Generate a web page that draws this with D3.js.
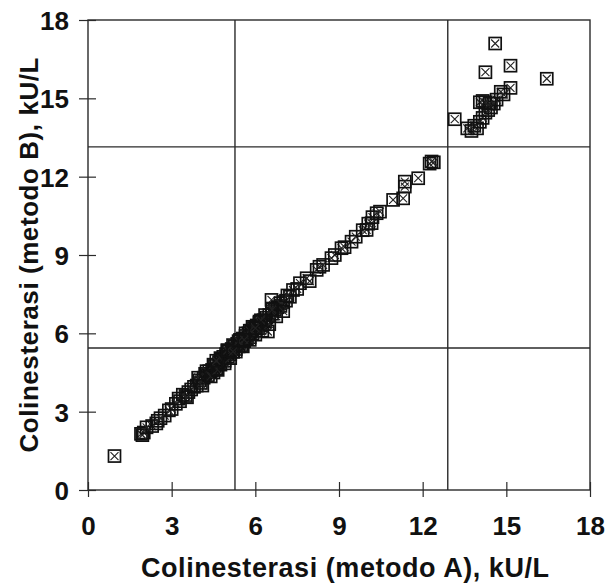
<!DOCTYPE html>
<html><head><meta charset="utf-8">
<script src="https://cdn.jsdelivr.net/npm/d3@7"></script>
<style>body{margin:0;background:#fff}svg{display:block}</style>
</head><body>
<script>
// Data (kU/L)
const methodA = [0.95,1.9,2.0,1.95,2.3,2.5,2.45,2.75,2.9,3.0,3.15,3.3,3.25,3.5,3.6,3.7,3.8,3.9,4.0,4.05,4.15,4.2,4.3,4.35,4.45,4.5,4.55,4.6,4.7,4.75,4.8,4.85,4.9,4.95,5.0,5.05,5.1,5.15,5.2,5.25,5.3,5.35,5.4,5.45,5.5,5.55,5.6,5.65,5.7,5.75,5.8,5.85,5.9,5.95,6.0,6.05,6.1,6.15,6.2,6.3,6.35,6.4,6.45,6.5,6.6,6.58,6.7,6.8,6.9,7.0,7.1,7.24,7.35,7.5,7.6,7.84,7.95,8.2,8.3,8.43,8.73,8.85,9.09,9.2,9.45,9.6,9.85,9.99,10.05,10.17,10.2,10.35,10.47,10.94,11.3,11.36,11.36,11.84,12.25,12.32,12.4,13.15,13.6,13.75,13.85,13.95,14.05,14.15,14.25,14.35,14.45,14.55,14.65,14.8,14.9,15.15,14.05,14.15,14.25,14.4,14.25,15.15,14.6,16.45,
  2.1,2.6,3.4,3.55,3.95,4.1,4.25,4.4,4.5,4.65,4.75,4.9,5.0,5.1,5.2,5.3,5.45,5.55,5.65,5.8,5.9,6.0,6.15,6.25,6.35,6.5,6.6,6.75,6.9,7.0,7.15,4.6,5.0,5.4,5.8,6.2,6.6,5.2,5.6,6.0];
const methodB = [1.3,2.15,2.2,2.1,2.45,2.65,2.55,2.85,3.05,3.1,3.3,3.4,3.5,3.6,3.75,3.85,3.95,4.0,4.2,4.1,4.3,4.45,4.4,4.55,4.6,4.5,4.75,4.65,4.9,4.8,5.0,5.1,4.95,5.2,5.1,5.3,5.2,5.4,5.3,5.5,5.4,5.6,5.5,5.7,5.55,5.8,5.7,5.9,5.8,6.0,5.85,6.1,6.0,6.2,6.1,6.3,6.2,6.4,6.3,6.5,6.45,6.6,6.07,6.7,6.75,7.28,6.9,7.0,7.05,7.2,7.25,7.4,7.66,7.7,7.92,8.11,8.0,8.43,8.55,8.62,8.88,9.0,9.26,9.3,9.51,9.7,9.95,9.96,10.2,10.22,10.45,10.6,10.66,11.11,11.17,11.62,11.81,11.94,12.5,12.58,12.55,14.2,13.85,13.75,13.95,13.85,14.1,14.25,14.45,14.55,14.65,14.8,14.95,15.25,15.15,15.4,14.85,14.9,14.85,14.8,16.0,16.25,17.1,15.75,
  2.4,2.75,3.65,3.55,4.3,4.0,4.55,4.35,4.8,4.6,5.05,4.85,5.35,5.05,5.55,5.3,5.75,5.5,6.0,5.75,6.25,5.95,6.45,6.1,6.7,6.35,6.95,6.65,7.15,6.85,7.45,4.95,5.35,5.7,6.1,6.5,6.9,5.3,5.75,6.2];
const tickValues = [0,3,6,9,12,15,18];
const refA = [5.27, 12.9];   // vertical reference lines
const refB = [5.44, 13.14];  // horizontal reference lines
const xTitle = "Colinesterasi (metodo A), kU/L";
const yTitle = "Colinesterasi (metodo B), kU/L";

const W = 607, H = 585;
const m = {left: 88, right: 17, top: 20, bottom: 95};
const svg = d3.select("body").append("svg").attr("width", W).attr("height", H);
const x = d3.scaleLinear().domain([0,18]).range([m.left, W - m.right]);
const y = d3.scaleLinear().domain([0,18]).range([H - m.bottom, m.top]);
const ink = "#2a2a2a";
const font = "'Liberation Sans', Arial, Helvetica, sans-serif";

// reference lines
svg.append("g").selectAll("line.v").data(refA).join("line")
  .attr("x1", d => x(d)).attr("x2", d => x(d)).attr("y1", y(0)).attr("y2", y(18))
  .attr("stroke", ink).attr("stroke-width", 1.4);
svg.append("g").selectAll("line.h").data(refB).join("line")
  .attr("y1", d => y(d)).attr("y2", d => y(d)).attr("x1", x(0)).attr("x2", x(18))
  .attr("stroke", ink).attr("stroke-width", 1.4);

// frame
svg.append("rect").attr("x", x(0)).attr("y", y(18))
  .attr("width", x(18) - x(0)).attr("height", y(0) - y(18))
  .attr("fill", "none").attr("stroke", ink).attr("stroke-width", 1.4);

// axes
const xAxis = d3.axisBottom(x).tickValues(tickValues).tickSize(0).tickPadding(0);
const gx = svg.append("g").attr("transform", `translate(0,${y(0)})`).call(xAxis);
gx.select(".domain").remove();
gx.selectAll(".tick line").attr("y1", -8).attr("y2", 7).attr("stroke", ink).attr("stroke-width", 1.2);
gx.selectAll(".tick text").attr("y", 27).attr("dy", "0.71em")
  .attr("font-family", font).attr("font-weight", "bold").attr("font-size", 26).attr("fill", "#111");

const yAxis = d3.axisLeft(y).tickValues(tickValues).tickSize(0).tickPadding(0);
const gy = svg.append("g").attr("transform", `translate(${x(0)},0)`).call(yAxis);
gy.select(".domain").remove();
gy.selectAll(".tick line").attr("x1", -9).attr("x2", 8).attr("stroke", ink).attr("stroke-width", 1.2);
gy.selectAll(".tick text").attr("x", -19).attr("dy", "0.36em")
  .attr("font-family", font).attr("font-weight", "bold").attr("font-size", 26).attr("fill", "#111");

// titles
svg.append("text").attr("x", 345).attr("y", 577).attr("text-anchor", "middle")
  .attr("font-family", font).attr("font-weight", "bold").attr("font-size", 27).attr("fill", "#111")
  .attr("textLength", 408).attr("lengthAdjust", "spacing")
  .text(xTitle);
svg.append("text").attr("transform", `translate(38,${(y(0)+y(18))/2}) rotate(-90)`)
  .attr("text-anchor", "middle")
  .attr("font-family", font).attr("font-weight", "bold").attr("font-size", 26).attr("fill", "#111")
  .attr("textLength", 395).attr("lengthAdjust", "spacing")
  .text(yTitle);

// points: square with X
const s = 6;
const pts = methodA.map((a, i) => ({a, b: methodB[i]}));
const g = svg.append("g").selectAll("g").data(pts).join("g")
  .attr("transform", d => `translate(${x(d.a)},${y(d.b)})`);
g.append("rect").attr("x", -s).attr("y", -s).attr("width", 2*s).attr("height", 2*s)
  .attr("fill", "none").attr("stroke", "#111").attr("stroke-width", 1.7);
g.append("path").attr("d", `M${-s+2},${-s+2}L${s-2},${s-2}M${s-2},${-s+2}L${-s+2},${s-2}`)
  .attr("stroke", "#222").attr("stroke-width", 1.1);
</script>
</body></html>
